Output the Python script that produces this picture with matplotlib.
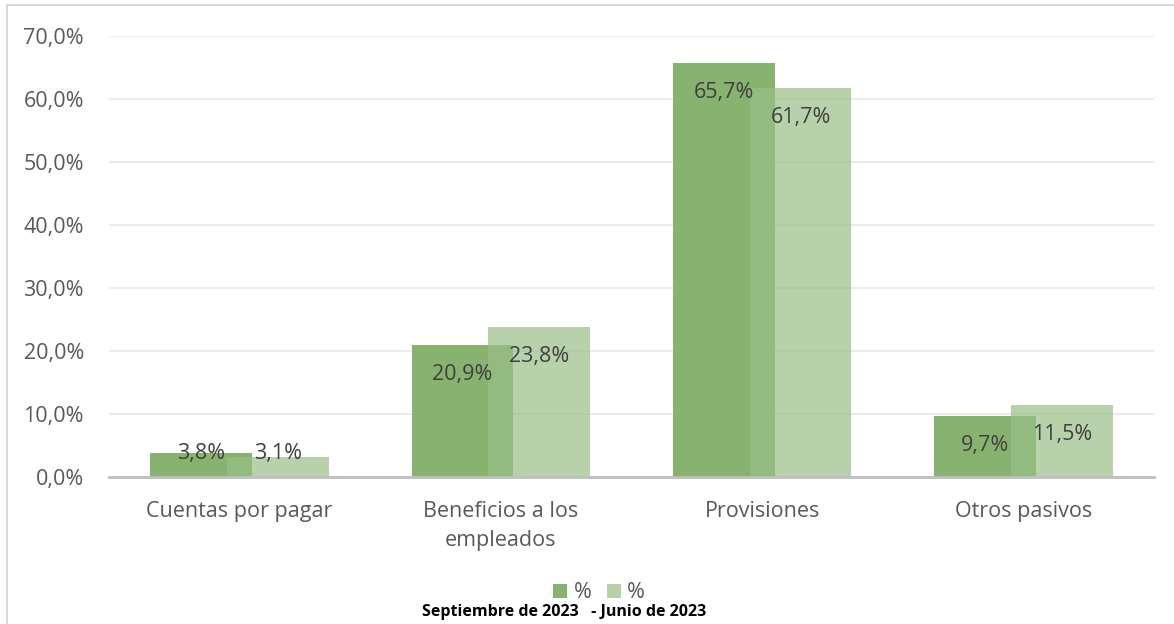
import matplotlib
matplotlib.use("Agg")
import matplotlib.pyplot as plt
import numpy as np
from matplotlib.lines import Line2D
from matplotlib.patches import Patch

categories = ["Cuentas por pagar", "Beneficios a los\nempleados", "Provisiones", "Otros pasivos"]
sep_2023 = [3.8, 20.9, 65.7, 9.7]
jun_2023 = [3.1, 23.8, 61.7, 11.5]
yticks = [0, 10, 20, 30, 40, 50, 60, 70]
legend_labels = ["%", "%"]
subtitle = "Septiembre de 2023   - Junio de 2023"

FONT = ["Open Sans", "DejaVu Sans"]
plt.rcParams["font.family"] = FONT

W, H = 1174, 624
fig = plt.figure(figsize=(W / 100, H / 100), dpi=100)
ax = fig.add_axes([109 / W, 1 - 477 / H, (1154 - 109) / W, (477 - 36) / H])

dark = "#88b26f"
light = "#99c088"
x = np.arange(len(categories))
bw = 0.39
off = 0.147
FS = 15.5
ax.bar(x - off, sep_2023, bw, color=dark, zorder=2)
ax.bar(x + off, jun_2023, bw, color=light, alpha=0.7, zorder=3)

for xi, v in zip(x - off, sep_2023):
    ax.text(xi, max(v - 4.7, 3.7), f"{v:.1f}".replace(".", ","
            ) + "%", ha="center", va="center", fontsize=FS, color="#404040", zorder=5)
for xi, v in zip(x + off, jun_2023):
    ax.text(xi, max(v - 4.7, 3.7), f"{v:.1f}".replace(".", ","
            ) + "%", ha="center", va="center", fontsize=FS, color="#404040", zorder=5)

ax.set_xlim(-0.5, len(categories) - 0.5)
ax.set_ylim(0, 70)
ax.set_yticks(yticks)
ax.set_yticklabels([f"{t:.1f}".replace(".", ",") + "%" for t in yticks])
ax.set_xticks(x)
ax.set_xticklabels(categories, linespacing=1.5)
ax.tick_params(axis="y", length=0, pad=18, labelsize=FS, labelcolor="#595959")
ax.tick_params(axis="x", length=0, pad=17, labelsize=FS, labelcolor="#595959")
ax.grid(axis="y", color="#ebebeb", linewidth=1.5, zorder=0)
ax.set_axisbelow(True)
for s in ["top", "right", "left"]:
    ax.spines[s].set_visible(False)
ax.spines["bottom"].set_color("#bfbfbf")
ax.spines["bottom"].set_linewidth(2)
ax.spines["bottom"].set_zorder(4)

handles = [Patch(facecolor=dark), Patch(facecolor=light, alpha=0.7)]
fig.legend(handles, legend_labels, loc="center", bbox_to_anchor=(599 / W, 1 - 593 / H),
           ncol=2, frameon=False, fontsize=FS, labelcolor="#595959",
           handlelength=0.65, handleheight=0.65, handletextpad=0.3, columnspacing=0.7)
fig.text(564 / W, 1 - 612 / H, subtitle, ha="center", va="center", fontsize=11.5,
         fontweight="bold", color="#000000", family=["Open Sans", "DejaVu Sans"])

fig.add_artist(Line2D([7 / W, 1], [1 - 5 / H, 1 - 5 / H], transform=fig.transFigure,
                      color="#d9d9d9", linewidth=1.5))
fig.add_artist(Line2D([7 / W, 7 / W], [0, 1 - 5 / H], transform=fig.transFigure,
                      color="#d9d9d9", linewidth=1.5))

fig.savefig("out.png", dpi=100)
